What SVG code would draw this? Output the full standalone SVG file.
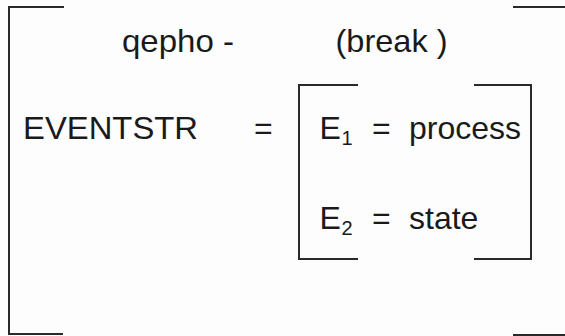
<svg xmlns="http://www.w3.org/2000/svg" width="565" height="336" viewBox="0 0 565 336">
<style>
.t{font-family:"Liberation Sans",Arial,sans-serif;font-size:32px;fill:#1a1a1a}
.s{font-family:"Liberation Sans",Arial,sans-serif;font-size:20px;fill:#1a1a1a}
.b{fill:none;stroke:#2a2a2a;stroke-width:2;stroke-linecap:butt}
</style>
<rect width="565" height="336" fill="#fdfdfd"/>
<g id="outer-bracket">
<path class="b" d="M64,7 H9 V334 H63"/>
<path class="b" d="M513,7 H565"/>
<path class="b" d="M513,335 H565"/>
</g>
<g id="header">
<text class="t" x="122" y="52" textLength="112" lengthAdjust="spacingAndGlyphs">qepho -</text>
<text class="t" x="335.5" y="52" textLength="112" lengthAdjust="spacingAndGlyphs">(break )</text>
</g>
<g id="eventstr">
<text class="t" x="23" y="139" textLength="175" lengthAdjust="spacingAndGlyphs">EVENTSTR</text>
<text class="t" x="254" y="139">=</text>
</g>
<g id="inner-bracket">
<path class="b" d="M358,85 H299 V259 H358"/>
<path class="b" d="M474,85 H531 V259 H474"/>
</g>
<g id="e1">
<text class="t" x="319.5" y="139">E</text>
<text class="s" x="341.5" y="145">1</text>
<text class="t" x="372" y="139">=</text>
<text class="t" x="409" y="139">process</text>
</g>
<g id="e2">
<text class="t" x="319.5" y="229">E</text>
<text class="s" x="341.5" y="235">2</text>
<text class="t" x="372" y="229">=</text>
<text class="t" x="409" y="229">state</text>
</g>
</svg>
